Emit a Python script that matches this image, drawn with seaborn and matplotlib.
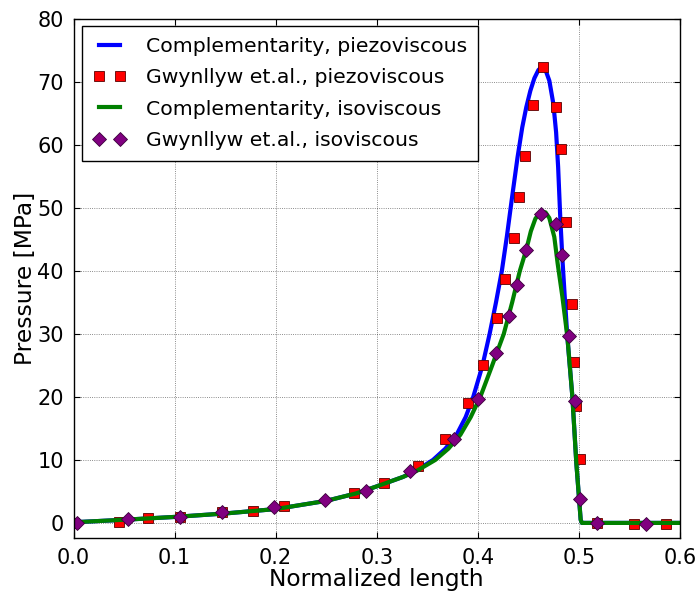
import matplotlib
matplotlib.use("Agg")
import matplotlib.pyplot as plt
import seaborn as sns
import pandas as pd

# Complementarity solution, piezoviscous
piezo_x = [0.0, 0.05, 0.10, 0.15, 0.20, 0.25, 0.28, 0.30, 0.326, 0.34, 0.3557,
           0.368, 0.379, 0.388, 0.3955, 0.4045, 0.4117, 0.418, 0.4238, 0.4288,
           0.4335, 0.4393, 0.444, 0.448, 0.452, 0.456, 0.460, 0.4635, 0.467,
           0.4708, 0.4748, 0.4775, 0.4795, 0.4816, 0.4837, 0.486, 0.4886, 0.4936,
           0.4975, 0.5018, 0.503, 0.55, 0.60]
piezo_y = [0.1, 0.5, 0.95, 1.5, 2.2, 3.5, 4.7, 5.8, 7.3, 8.4, 10.0,
           11.8, 14.0, 16.8, 20.0, 24.9, 30.0, 35.0, 40.0, 45.5,
           51.2, 58.0, 62.8, 66.0, 68.6, 70.6, 71.9, 72.4, 71.9,
           70.2, 66.5, 62.0, 56.5, 48.5, 42.0, 36.0, 29.6, 20.0,
           9.5, 0.5, 0.0, 0.0, 0.0]

# Complementarity solution, isoviscous
iso_x = [0.0, 0.05, 0.10, 0.15, 0.20, 0.25, 0.28, 0.30, 0.326, 0.34, 0.358,
         0.371, 0.3828, 0.393, 0.4025, 0.414, 0.4257, 0.434, 0.4416, 0.448,
         0.4525, 0.457, 0.4625, 0.467, 0.4708, 0.4757, 0.479, 0.4837, 0.4886,
         0.4936, 0.4975, 0.5018, 0.503, 0.55, 0.60]
iso_y = [0.1, 0.5, 0.95, 1.5, 2.2, 3.5, 4.7, 5.8, 7.3, 8.3, 10.0,
         11.8, 14.0, 16.8, 20.0, 24.9, 30.0, 35.0, 40.0, 43.4,
         46.3, 48.3, 49.4, 49.3, 48.4, 45.4, 41.2, 35.9, 29.6,
         20.0, 9.5, 0.5, 0.0, 0.0, 0.0]

# Gwynllyw et.al. reference values, piezoviscous
gw_piezo_x = [0.0, 0.0445, 0.0738, 0.105, 0.147, 0.1773, 0.208, 0.278, 0.307,
              0.341, 0.368, 0.390, 0.405, 0.419, 0.427, 0.436, 0.441, 0.447,
              0.455, 0.465, 0.477, 0.482, 0.487, 0.493, 0.495, 0.497, 0.501,
              0.518, 0.555, 0.5866]
gw_piezo_y = [0.0, 0.2, 0.75, 1.0, 1.7, 1.9, 2.7, 4.7, 6.3,
              9.0, 13.3, 19.0, 25.0, 32.5, 38.8, 45.3, 51.7, 58.2,
              66.4, 72.4, 66.1, 59.4, 47.7, 34.7, 25.6, 18.6, 10.2,
              0.0, -0.2, -0.2]

# Gwynllyw et.al. reference values, isoviscous
gw_iso_x = [0.003, 0.054, 0.105, 0.1468, 0.1988, 0.2486, 0.289, 0.333, 0.376,
            0.400, 0.418, 0.431, 0.439, 0.448, 0.463, 0.477, 0.483, 0.490,
            0.496, 0.501, 0.5178, 0.566]
gw_iso_y = [0.0, 0.6, 1.0, 1.7, 2.5, 3.65, 5.1, 8.2, 13.3,
            19.6, 27.0, 32.8, 37.7, 43.4, 49.0, 47.4, 42.5, 29.6,
            19.3, 3.8, 0.0, -0.1]

plt.rcParams.update({
    "font.family": ["DejaVu Sans"],
    "font.size": 15,
    "axes.linewidth": 1.0,
    "xtick.direction": "in",
    "ytick.direction": "in",
    "xtick.top": True,
    "ytick.right": True,
    "xtick.major.size": 4,
    "ytick.major.size": 4,
    "xtick.major.pad": 7,
    "ytick.major.pad": 7,
})

fig = plt.figure(figsize=(6.95, 5.93), dpi=100)
ax = fig.add_axes([0.1058, 0.0927, 0.8725, 0.8753])

df_piezo = pd.DataFrame({"x": piezo_x, "p": piezo_y})
df_iso = pd.DataFrame({"x": iso_x, "p": iso_y})
df_gwp = pd.DataFrame({"x": gw_piezo_x, "p": gw_piezo_y})
df_gwi = pd.DataFrame({"x": gw_iso_x, "p": gw_iso_y})

sns.lineplot(data=df_piezo, x="x", y="p", ax=ax, sort=False, estimator=None,
             color="#0000ff", linewidth=3, label="Complementarity, piezoviscous")
sns.lineplot(data=df_gwp, x="x", y="p", ax=ax, sort=False, estimator=None,
             color="#ff0000", linestyle="none", marker="s", markersize=7,
             markeredgecolor="#5a0000", markeredgewidth=0.6,
             label="Gwynllyw et.al., piezoviscous")
sns.lineplot(data=df_iso, x="x", y="p", ax=ax, sort=False, estimator=None,
             color="#008000", linewidth=3, label="Complementarity, isoviscous")
sns.lineplot(data=df_gwi, x="x", y="p", ax=ax, sort=False, estimator=None,
             color="#800080", linestyle="none", marker="D", markersize=7.5,
             markeredgecolor="#3a003a", markeredgewidth=0.6,
             label="Gwynllyw et.al., isoviscous")

ax.set_xlim(0, 0.6)
ax.set_ylim(-2.4, 80)
ax.set_xticks([0.0, 0.1, 0.2, 0.3, 0.4, 0.5, 0.6])
ax.set_xticklabels(["0.0", "0.1", "0.2", "0.3", "0.4", "0.5", "0.6"])
ax.set_yticks(range(0, 81, 10))
ax.grid(True, linestyle=":", color="black", linewidth=0.6, alpha=0.6)
ax.set_axisbelow(True)
ax.set_xlabel("Normalized length", fontsize=16.8, labelpad=0)
ax.set_ylabel("Pressure [MPa]", fontsize=16.8, labelpad=0)
for sp in ax.spines.values():
    sp.set_color("black")

leg = ax.legend(loc="upper left", numpoints=2, fontsize=14.7, fancybox=False,
                frameon=True, edgecolor="black", framealpha=1.0,
                borderpad=0.54, borderaxespad=0.0, handlelength=1.6,
                handletextpad=1.0, labelspacing=0.6,
                bbox_to_anchor=(0.014, 0.9865))
leg.get_frame().set_linewidth(1.0)

fig.savefig("out.png", dpi=100, facecolor="white")
